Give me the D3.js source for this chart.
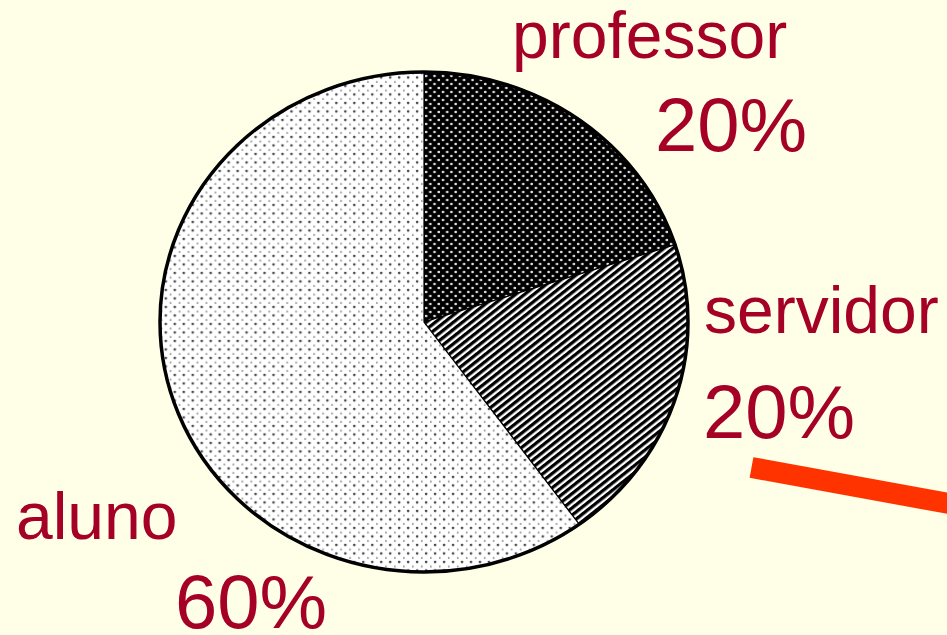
<!DOCTYPE html>
<html><head><meta charset="utf-8">
<script src="https://cdn.jsdelivr.net/npm/d3@7"></script>
<style>html,body{margin:0;padding:0;background:#FFFFE8;}svg{display:block;}</style>
</head><body>
<script>
const categories = ["professor", "servidor", "aluno"];
const values = [20, 20, 60];
const pctLabels = ["20%", "20%", "60%"];

const W = 947, H = 635;
const svg = d3.select("body").append("svg").attr("width", W).attr("height", H);
svg.append("rect").attr("width", W).attr("height", H).attr("fill", "#FFFFE8");

const defs = svg.append("defs");
// professor: black with light dots
const p1 = defs.append("pattern").attr("id", "pat0").attr("patternUnits", "userSpaceOnUse").attr("width", 8).attr("height", 8);
p1.append("rect").attr("width", 8).attr("height", 8).attr("fill", "#000");
p1.append("circle").attr("cx", 2).attr("cy", 2).attr("r", 1.3).attr("fill", "#ddd");
p1.append("circle").attr("cx", 6).attr("cy", 6).attr("r", 1.3).attr("fill", "#ddd");
// servidor: diagonal stripes rising to the right
const p2 = defs.append("pattern").attr("id", "pat1").attr("patternUnits", "userSpaceOnUse").attr("width", 6).attr("height", 5.5)
  .attr("patternTransform", "rotate(-40)");
p2.append("rect").attr("width", 6).attr("height", 5.5).attr("fill", "#fff");
p2.append("rect").attr("width", 6).attr("height", 3.2).attr("fill", "#000");
// aluno: white with gray dots
const p3 = defs.append("pattern").attr("id", "pat2").attr("patternUnits", "userSpaceOnUse").attr("width", 8.5).attr("height", 8.5);
p3.append("rect").attr("width", 8.5).attr("height", 8.5).attr("fill", "#fff");
p3.append("circle").attr("cx", 2).attr("cy", 2).attr("r", 1.3).attr("fill", "#4a4a4a");
p3.append("rect").attr("x", 6).attr("y", 5.5).attr("width", 1).attr("height", 2).attr("fill", "#666");

const cx = 424, cy = 322, rx = 264, ry = 250;
const pie = d3.pie().sort(null).value(d => d)(values);
const arc = d3.arc().innerRadius(0).outerRadius(ry);
const g = svg.append("g").attr("transform", `translate(${cx},${cy}) scale(${rx/ry},1)`);
g.selectAll("path").data(pie).join("path")
  .attr("d", arc)
  .attr("fill", (d, i) => `url(#pat${i})`)
  .attr("stroke", "#000").attr("stroke-width", 1.2)
  .attr("vector-effect", "non-scaling-stroke");
g.append("ellipse").attr("rx", ry).attr("ry", ry).attr("fill", "none")
  .attr("stroke", "#000").attr("stroke-width", 3.5).attr("vector-effect", "non-scaling-stroke");

const txtColor = "#A50026";
const labelPos = [
  {lx: 512, ly: 58, px: 655, py: 151},
  {lx: 704, ly: 333, px: 703, py: 438},
  {lx: 16, ly: 539, px: 175, py: 628}
];
categories.forEach((c, i) => {
  svg.append("text").attr("x", labelPos[i].lx).attr("y", labelPos[i].ly)
    .attr("font-family", "Liberation Sans, Arial, sans-serif").attr("font-size", 66)
    .attr("fill", txtColor).text(c);
  svg.append("text").attr("x", labelPos[i].px).attr("y", labelPos[i].py)
    .attr("font-family", "Liberation Sans, Arial, sans-serif").attr("font-size", 76)
    .attr("fill", txtColor).text(pctLabels[i]);
});

// decorative red stroke
svg.append("line").attr("x1", 751.5).attr("y1", 467.5).attr("x2", 960).attr("y2", 505.5)
  .attr("stroke", "#FF3300").attr("stroke-width", 21);
</script>
</body></html>
